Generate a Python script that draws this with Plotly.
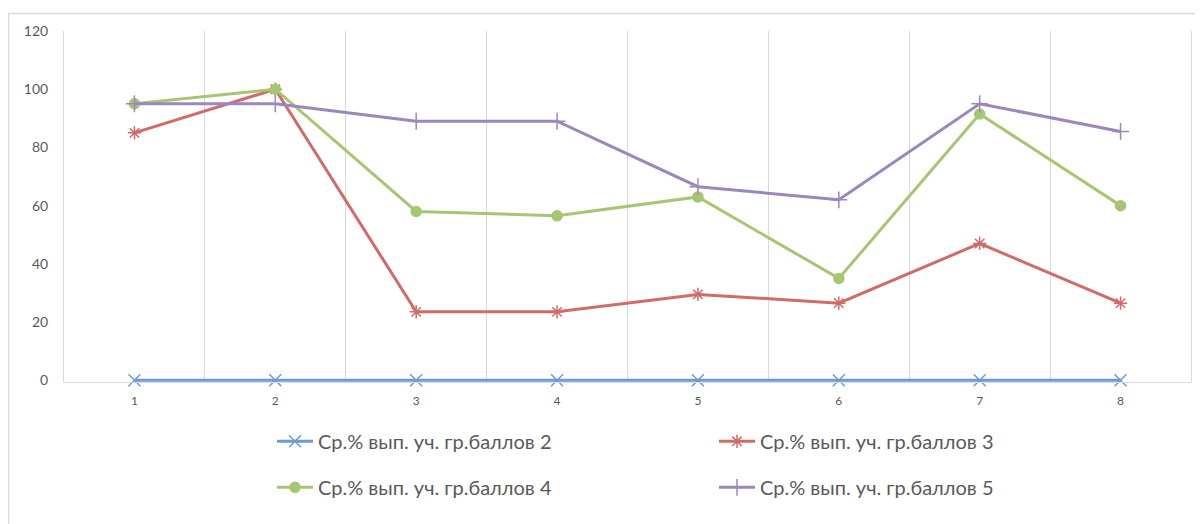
import plotly.graph_objects as go

categories = [1, 2, 3, 4, 5, 6, 7, 8]
series_names = [
    "Ср.% вып. уч. гр.баллов 2",
    "Ср.% вып. уч. гр.баллов 3",
    "Ср.% вып. уч. гр.баллов 4",
    "Ср.% вып. уч. гр.баллов 5",
]
vals_2 = [0, 0, 0, 0, 0, 0, 0, 0]
vals_3 = [85, 100, 23.5, 23.5, 29.5, 26.5, 47, 26.5]
vals_4 = [95, 100, 58, 56.5, 63, 35, 91.5, 60]
vals_5 = [95, 95, 89, 89, 66.5, 62, 95, 85.5]
y_ticks = [0, 20, 40, 60, 80, 100, 120]

colors = ["#6E9BD6", "#D06B67", "#A6C672", "#9B86BF"]
symbols = ["x-thin", "asterisk-open", "circle", "cross-thin"]
sizes = [12, 11, 10, 12]
legends = ["legend", "legend", "legend2", "legend2"]

# page has an 8px body margin; figure is placed at (8, 8)
W, H = 1195, 516
PL, PR, PT, PB = 56, 1183, 23, 372  # plot area in figure px (0 at pixel PB)
Y_MIN = -0.6
scale = (PB - PT) / 120.0
pb_ext = PB + (-Y_MIN) * scale

fig = go.Figure()
for name, vals, c, s, sz, lg in zip(series_names, [vals_2, vals_3, vals_4, vals_5],
                                    colors, symbols, sizes, legends):
    fig.add_trace(go.Scatter(
        x=categories, y=vals, name=name, mode="lines+markers",
        line=dict(color=c, width=3),
        marker=dict(symbol=s, size=sz, color=c, line=dict(color=c, width=1.5)),
        legend=lg, cliponaxis=False,
    ))

grid_pos = [c + 0.5 for c in categories[:-1]]
ph = pb_ext - PT
LEG_LEFT = 264

fig.update_layout(
    width=W, height=H,
    margin=dict(l=PL, r=W - PR, t=PT, b=H - pb_ext),
    paper_bgcolor="white", plot_bgcolor="white",
    font=dict(family="Lato, Open Sans, sans-serif", color="#595959"),
    xaxis=dict(
        range=[0.5, 8.5], tickvals=categories, ticktext=[str(c) for c in categories],
        showgrid=False, zeroline=False, showline=True, linecolor="#D9D9D9", linewidth=1,
        ticks="", ticklabelstandoff=8, tickfont=dict(size=12, color="#595959"),
        minor=dict(tickvals=grid_pos, showgrid=True, gridcolor="#D9D9D9", gridwidth=1, ticks=""),
    ),
    yaxis=dict(
        range=[Y_MIN, 120], tickvals=y_ticks, showgrid=False, zeroline=False,
        showline=True, mirror=True, linecolor="#D9D9D9", linewidth=1,
        ticks="", ticklabelstandoff=12, tickfont=dict(size=14, color="#595959"),
    ),
    legend=dict(
        orientation="h", x=(LEG_LEFT - PL) / (PR - PL), xanchor="left",
        y=(pb_ext - 433) / ph, yanchor="middle",
        entrywidth=391, entrywidthmode="pixels", itemwidth=36,
        font=dict(size=20, color="#595959"), bgcolor="rgba(0,0,0,0)",
    ),
    legend2=dict(
        orientation="h", x=(LEG_LEFT - PL) / (PR - PL), xanchor="left",
        y=(pb_ext - 479) / ph, yanchor="middle",
        entrywidth=391, entrywidthmode="pixels", itemwidth=36,
        font=dict(size=20, color="#595959"), bgcolor="rgba(0,0,0,0)",
    ),
    shapes=[dict(
        type="rect", xref="paper", yref="paper",
        x0=(0.5 - PL) / (PR - PL), x1=(1250 - PL) / (PR - PL),
        y0=(pb_ext - 600) / ph, y1=(pb_ext - 5.5) / ph,
        line=dict(color="#D9D9D9", width=1.5), fillcolor="rgba(0,0,0,0)", layer="below",
    )],
)

fig.write_html("out.html")
